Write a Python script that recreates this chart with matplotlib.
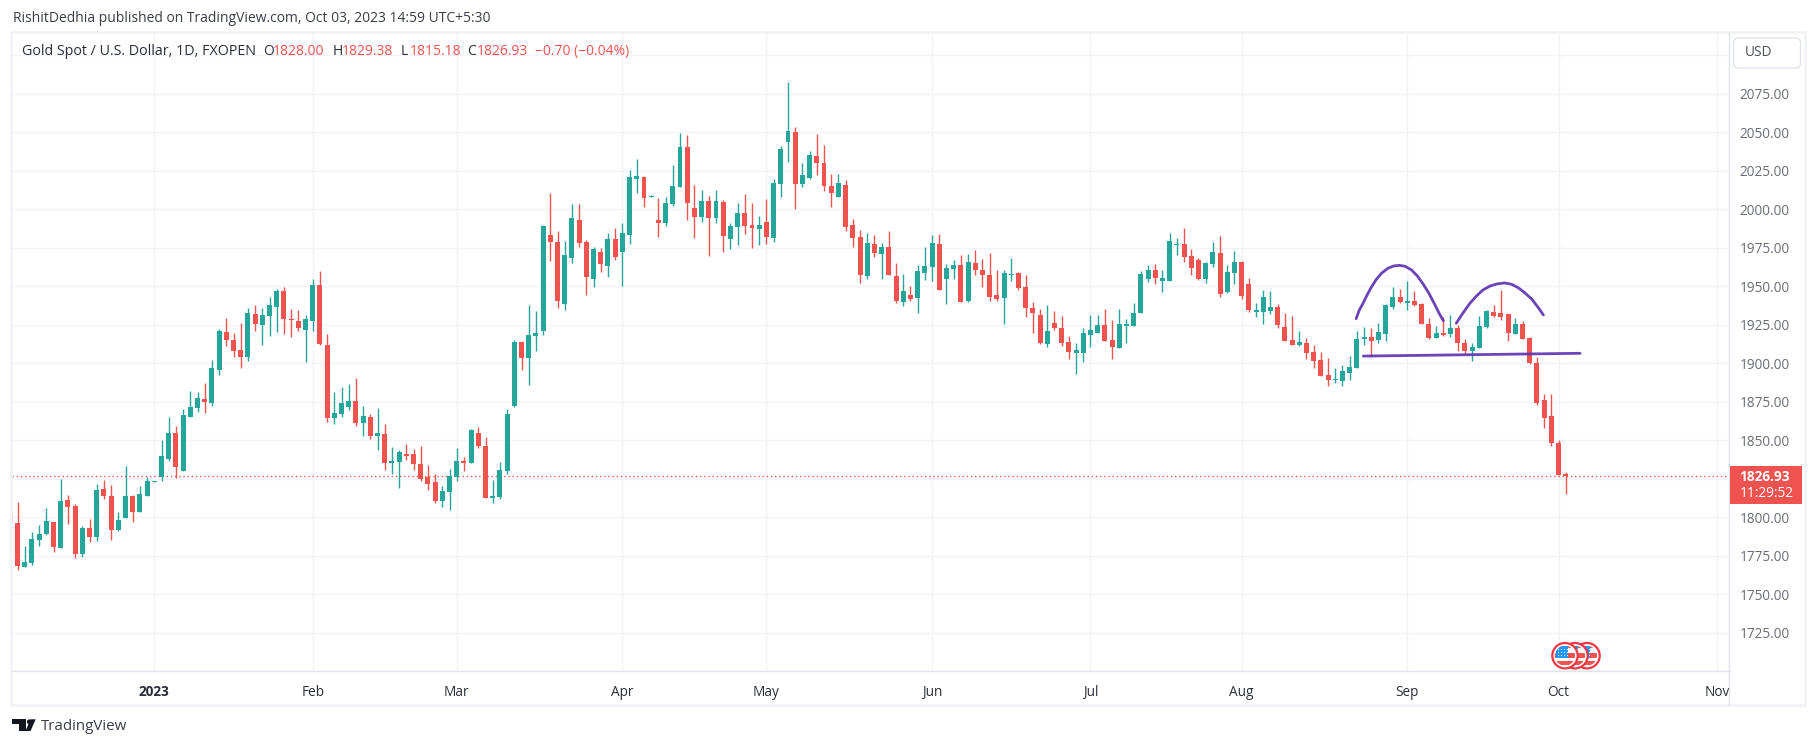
import matplotlib
matplotlib.use("Agg")
import matplotlib.pyplot as plt
from matplotlib.patches import Circle, FancyBboxPatch, Polygon, Rectangle

W, H = 1817, 747
FONT = "Open Sans"
GREEN = "#26a69a"
RED = "#ef5350"
GRID = "#f2f4f9"
BORDER = "#e0e3eb"
PURPLE = "#5e35b1"

# price bars, bar -1 is cut by the left edge of the chart
opens = [1803, 1796.3, 1767.7, 1770.3, 1785.2, 1789.1, 1796.9, 1780, 1811.2, 1807.3, 1776.1, 1793, 1787.2, 1818.4, 1813.8, 1791.7, 1799.5, 1813.8, 1803.4, 1813.8, 1822.9, 1826.2, 1837.8, 1854.7, 1830, 1865.1, 1871, 1876.8, 1874.2, 1895.7, 1920.3, 1915.1, 1908.6, 1904.1, 1932, 1924.9, 1930.7, 1936.6, 1947, 1928.8, 1927.5, 1921.6, 1927.5, 1950.9, 1911.9, 1864.5, 1867.1, 1871.6,
         1875.5, 1861.2, 1865.1, 1852.8, 1854.1, 1835.2, 1835.9, 1841.1, 1841.1, 1834.6, 1826.2, 1822.9, 1810.6, 1816.4, 1826.2, 1836.5, 1835.2, 1854.7, 1846.3, 1812.5, 1813.2, 1830, 1872.3, 1913.8, 1903.5, 1917.7, 1921, 1983.3, 1978.7, 1938.5, 1968.3, 1993, 1978.7, 1954.7, 1972.2, 1963.1, 1980.7, 1972.2, 1983.3, 2019.6, 2020.9, 2008, 1993, 1991.1, 2003.4, 2014.5, 2040.4, 2000.8, 1995, 2005.4, 1994.3, 2004.7, 1980.7, 1988.5, 1997.6, 1989.8, 1987.2, 1991.7, 1981.3, 2016.4, 2043.7, 2050.2, 2016.4, 2020.3, 2034.6, 2030, 2015.1, 2008, 2015.8, 1989.8, 1982, 1956.6, 1977.4, 1970.9, 1975.5, 1956.6,
         1939.7, 1944.3, 1942.3, 1958.6, 1962.5, 1977.4, 1954.7, 1961.2, 1963.8, 1940.4, 1965.1, 1960.5, 1957.3, 1944.3, 1942.3, 1957.3, 1958.6, 1949.5, 1935.8, 1931.3, 1912.5, 1926.1, 1922.9, 1913.8, 1906.6, 1906.6, 1918.3, 1919.6, 1924.8, 1915.1, 1909.9, 1924.2, 1924.2, 1932.6, 1954.7, 1960.5, 1953.4, 1953.4, 1976.8, 1977.4, 1969.6, 1967, 1954.7, 1964.4, 1971.6, 1946.2, 1958.6, 1965.7, 1951.4, 1933.3, 1933.3, 1933.9, 1936.5, 1923.5, 1915.1, 1911.9,
         1913.2, 1907.3, 1902.2, 1892.4, 1889.2, 1888.5, 1893.7, 1897, 1915.8, 1917.1, 1915.1, 1919, 1936.6, 1943.1, 1939.2, 1940.5, 1938.5, 1925.5, 1916.4, 1919.7, 1919, 1922.9, 1913.2, 1908, 1909.9, 1923.6, 1933.3, 1932.7, 1932, 1919, 1925.5, 1916.4, 1900.2, 1876.2, 1865.8, 1848.2, 1828.00]
highs = [1803, 1809.7, 1781.3, 1790.4, 1795, 1806, 1796.9, 1824.9, 1814.5, 1808.6, 1794.3, 1798.9, 1821.6, 1824.2, 1821, 1803.4, 1833.3, 1814.5, 1820.3, 1826.2, 1823.6, 1850.2, 1865.1, 1859.3, 1870.3, 1882, 1881.4, 1887.2, 1902.2, 1922.3, 1929.4, 1919.7, 1926.2, 1935.9, 1937.9, 1935.9, 1943.1, 1948.3, 1949.6, 1935.3, 1934.6, 1931.4, 1954.8, 1960, 1919, 1881.4, 1884.6, 1886.6,
         1890.5, 1872.3, 1867.1, 1871, 1860.6, 1845.6, 1843.7, 1847.6, 1844.3, 1846.3, 1834, 1828.1, 1820.3, 1831.4, 1845, 1839.1, 1857.3, 1858.6, 1852.1, 1824.2, 1835.9, 1870.3, 1915.1, 1914.5, 1937.9, 1934, 1989.8, 2010.6, 1985.9, 1979.4, 2003.4, 2003.4, 1980.1, 1975.5, 1974.8, 1984.6, 1987.8, 1991.1, 2025.5, 2032.6, 2021.6, 2009.3, 2007.3, 2008, 2028.7, 2049.5, 2048.2, 2015.8, 2012.5, 2008.6, 2012.5, 2006, 1991.1, 2004, 2009.9, 2004, 1995.6, 2006.7, 2019.6, 2041.1, 2082.7, 2053.4, 2030, 2037.8, 2048.9, 2041.7, 2022.9, 2022.9, 2019, 1993.7, 1986.5, 1984.6, 1983.3, 1978.1, 1985.9, 1965.1,
         1957.9, 1950.1, 1963.8, 1975.5, 1983.3, 1983.9, 1964.4, 1967, 1970.3, 1970.9, 1973.5, 1967.7, 1971.6, 1960.5, 1960.5, 1968.3, 1959.2, 1957.3, 1939.7, 1935.2, 1937.8, 1933.9, 1930.7, 1917.7, 1913.1, 1922.9, 1931.3, 1931.3, 1935.2, 1928.1, 1935.2, 1928.7, 1939.1, 1959.9, 1963.8, 1964.4, 1960.5, 1984.6, 1981.3, 1987.8, 1974.2, 1968.3, 1965.7, 1978.7, 1982.6, 1963.8, 1972.9, 1966.4, 1955.3, 1939.1, 1947.5, 1946.9, 1938.4, 1932.6, 1930.7, 1921,
         1916.4, 1911.9, 1907.3, 1903.5, 1897, 1898.9, 1904.7, 1921, 1923.6, 1922.9, 1926.2, 1938.5, 1949.6, 1948.3, 1953.5, 1947, 1939.2, 1929.4, 1924.2, 1930.1, 1931.4, 1924.9, 1915.8, 1913.2, 1930.7, 1934.6, 1937.9, 1947.6, 1932, 1929.4, 1927.5, 1917.1, 1904.1, 1880.1, 1880.1, 1850.2, 1829.38]
lows = [1797, 1765.8, 1767.7, 1769, 1781.3, 1788.5, 1777.4, 1780, 1795.6, 1773.5, 1774.2, 1784, 1784.6, 1811.9, 1785.2, 1791.1, 1799.5, 1796.9, 1803.4, 1813.8, 1822.9, 1823.6, 1836.5, 1825.5, 1830, 1865.1, 1868.4, 1867.7, 1872.3, 1892.4, 1911.2, 1904.1, 1897, 1901.5, 1921, 1911.9, 1917.7, 1920.3, 1919, 1917.1, 1921, 1900.8, 1921, 1911.9, 1861.9, 1860.6, 1865.1, 1869.7,
        1859.3, 1852.8, 1850.8, 1843.7, 1830.7, 1828.1, 1819, 1837.2, 1830.7, 1823.6, 1817.7, 1809.3, 1806.7, 1804.7, 1823.6, 1830, 1835.2, 1845, 1812.5, 1809.3, 1811.9, 1828.1, 1871.6, 1895.7, 1885.9, 1908, 1918.4, 1966.4, 1935.9, 1934.6, 1965.1, 1975.5, 1944.3, 1949.5, 1959.2, 1956, 1967.1, 1950.2, 1977.4, 2010.6, 2001.5, 2008, 1982, 1989.1, 2002.1, 2014.5, 1993, 1981.3, 1991.7, 1969.6, 1991.1, 1972.2, 1974.2, 1976.8, 1984, 1974.8, 1976.8, 1977.4, 1978.7, 2008, 2030.7, 2000.2, 2014.5, 2019.6, 2022.3, 2011.9, 2001.5, 2008, 1985.9, 1975.5, 1952.1, 1954.7, 1969, 1954.7, 1957.3, 1939.1,
        1937.1, 1940.4, 1932.6, 1954, 1953.4, 1947.5, 1938.4, 1954.7, 1939.7, 1939.7, 1957.3, 1949.5, 1940.4, 1940.4, 1925.5, 1953.4, 1947.5, 1930, 1919.6, 1912.5, 1910.5, 1921.6, 1911.2, 1902.7, 1893, 1900.8, 1910.5, 1919.6, 1914.4, 1902.7, 1909.9, 1913.1, 1924.2, 1932.6, 1952.7, 1951.4, 1946.2, 1953.4, 1970.3, 1965.7, 1957.3, 1954, 1952.1, 1962.5, 1943, 1945.6, 1951.4, 1941.7, 1933.3, 1930, 1925.5, 1932, 1922.9, 1914.4, 1911.8, 1911.2,
        1902.8, 1897, 1891.8, 1885.3, 1887.2, 1885.3, 1889.2, 1897, 1911.9, 1904.1, 1913.2, 1914.5, 1935.3, 1939.2, 1934.6, 1937.2, 1925.5, 1915.8, 1916.4, 1917.7, 1917.1, 1908, 1906.1, 1901.5, 1909.9, 1922.9, 1930.1, 1928.1, 1914.5, 1919, 1915.8, 1899.6, 1872.9, 1858, 1846.3, 1827.5, 1815.18]
closes = [1797, 1768.6, 1771, 1785.9, 1789.1, 1797.6, 1780.7, 1810.6, 1806.7, 1776.1, 1793, 1787.2, 1817.7, 1813.8, 1791.7, 1798.2, 1813.8, 1803.4, 1815.1, 1823.6, 1823.6, 1839.8, 1854.7, 1832.7, 1866.4, 1871.6, 1877.5, 1874.9, 1897, 1921, 1915.1, 1908, 1904.1, 1932.7, 1925.5, 1931.4, 1937.9, 1947, 1928.8, 1928.1, 1922.9, 1928.8, 1950.9, 1912.5, 1864.5, 1867.7, 1874.2, 1875.5,
          1861.2, 1865.8, 1852.8, 1854.7, 1835.2, 1836.5, 1842.4, 1839.8, 1834.6, 1824.9, 1821.6, 1810.6, 1817, 1826.8, 1836.5, 1835.2, 1856.7, 1846.3, 1812.5, 1813.8, 1830.7, 1867.1, 1913.8, 1903.5, 1918.4, 1919.7, 1989.1, 1978.7, 1940.4, 1970.3, 1994.3, 1978.1, 1956, 1974.2, 1964.4, 1980.7, 1969, 1984.6, 2020.9, 2021.6, 2007.3, 2008.6, 1991.1, 2004, 2015.1, 2040.4, 2004, 1995, 2005.4, 1994.3, 2005.4, 1982.6, 1989.1, 1997.6, 1989.1, 1987.8, 1989.8, 1982, 2017, 2039.1, 2050.8, 2016.4, 2022.3, 2035.2, 2030, 2015.1, 2010.6, 2017, 1988.5, 1981.3, 1957.3, 1978.1, 1971.6, 1975.5, 1957.3, 1940.4,
          1946.9, 1941.7, 1959.9, 1963.1, 1978.1, 1947.5, 1961.8, 1963.8, 1939.7, 1965.7, 1960.5, 1957.3, 1943, 1941.7, 1958.6, 1957.9, 1948.8, 1935.8, 1932.6, 1913.1, 1920.9, 1922.9, 1913.1, 1907.3, 1908.6, 1919.6, 1921.6, 1924.8, 1914.4, 1910.5, 1925.5, 1925.5, 1932.6, 1957.9, 1960.5, 1955.3, 1955.3, 1979.4, 1977.4, 1969, 1961.8, 1954.7, 1965.1, 1972.2, 1945, 1959.2, 1965.7, 1943.6, 1934.6, 1934.6, 1943, 1936.5, 1924.8, 1914.4, 1911.8, 1913.8,
          1906.7, 1901.5, 1891.8, 1889.2, 1889.8, 1895, 1897.6, 1915.8, 1917.1, 1914.5, 1920.3, 1937.9, 1943.1, 1939.8, 1940.5, 1937.9, 1925.5, 1916.4, 1919.7, 1918.4, 1922.9, 1913.2, 1908, 1910.6, 1924.2, 1934, 1930.7, 1930.1, 1919.7, 1925.5, 1915.8, 1900.2, 1874.2, 1864.5, 1848.2, 1827.5, 1826.93]
first_bar = -1

# drawings on the chart, in bar numbers and prices
arc1_x = [185.9, 186.3, 186.9, 187.4, 188.0, 188.7, 189.4, 190.3, 191.1, 191.9, 192.7, 193.6, 194.4, 195.2, 196.0, 196.8, 197.5, 198.0]
arc1_y = [1929, 1934.2, 1939.4, 1944.2, 1949.4, 1954.5, 1958.4, 1961.7, 1963.2, 1963.6, 1963, 1960.6, 1956.7, 1951.5, 1945.5, 1938.3, 1931.8, 1927.7]
arc2_x = [199.8, 200.7, 201.7, 202.6, 203.5, 204.5, 205.4, 206.5, 207.5, 208.4, 209.3, 210.3, 211.2, 211.9]
arc2_y = [1926, 1932.5, 1939, 1943.7, 1947.6, 1950.2, 1951.5, 1952.2, 1951.3, 1949.1, 1945.9, 1941.6, 1936.1, 1931.4]
neck_x = [186.9, 217]
neck_y = [1904.7, 1906.5]

month_bars = [19, 41, 61, 84, 104, 127, 149, 170, 193, 214, 236]
month_labels = ["2023", "Feb", "Mar", "Apr", "May", "Jun", "Jul", "Aug", "Sep", "Oct", "Nov"]
price_ticks = list(range(1700, 2125, 25))
shown_prices = [1725, 1750, 1775, 1800, 1850, 1875, 1900, 1925, 1950, 1975, 2000, 2025, 2050, 2075]
last_price = 1826.93

plt.rcParams["font.family"] = [FONT, "DejaVu Sans"]
fig = plt.figure(figsize=(W / 100, H / 100), dpi=100, facecolor="white")

# chart area, placed in pixels
left, right, top, bottom = 12.3, 1729.3, 33.0, 671.3
ax = fig.add_axes([left / W, 1 - bottom / H, (right - left) / W, (bottom - top) / H])
ax.set_xlim((left - 17.5) / 7.201, (right - 17.5) / 7.201)
ax.set_ylim(1700, 2114.5)
for s in ax.spines.values():
    s.set_visible(False)

ax.set_axisbelow(True)
ax.grid(True, color=GRID, lw=1.0)
ax.set_xticks(month_bars)
ax.set_xticklabels(month_labels, fontsize=9.8, color="#2a2e39")
ax.get_xticklabels()[0].set_fontweight("bold")
ax.yaxis.tick_right()
ax.set_yticks(price_ticks)
ax.set_yticklabels([f"{p:.2f}" if p in shown_prices else "" for p in price_ticks], fontsize=9.8, color="#6a6d78")
ax.tick_params(axis="both", length=0)
ax.tick_params(axis="x", pad=10)
ax.tick_params(axis="y", pad=7.5)

xs = [first_bar + i for i in range(len(closes))]
colors = [GREEN if c >= o else RED for o, c in zip(opens, closes)]
ax.vlines(xs, lows, highs, colors=colors, lw=1.0, zorder=3)
bottoms = [min(o, c) for o, c in zip(opens, closes)]
heights = [max(abs(c - o), 0.7) for o, c in zip(opens, closes)]
ax.bar(xs, heights, bottom=bottoms, width=0.69, color=colors, lw=0, zorder=4)
ax.patches[0].set_alpha(0.6)

ax.axhline(last_price, color=RED, lw=1.0, ls=(0, (1, 2)), zorder=2)

for px, py in [(arc1_x, arc1_y), (arc2_x, arc2_y), (neck_x, neck_y)]:
    ax.plot(px, py, color=PURPLE, lw=2.0, solid_capstyle="round", solid_joinstyle="round", alpha=0.92, zorder=5)

# overlay in pixel coordinates for the frame, the tag, the header and the logo
ov = fig.add_axes([0, 0, 1, 1], facecolor="none")
ov.set_xlim(0, W)
ov.set_ylim(H, 0)
ov.axis("off")

ov.add_patch(Rectangle((left - 1, top - 1), 1805 - left + 1, 705 - top + 1, fill=False, ec="#f0f2f8", lw=1.8))
ov.plot([left, right], [bottom, bottom], color=BORDER, lw=1.0)
ov.plot([right, right], [top, 705], color=BORDER, lw=1.0)


def htext(x, y, s, color="#2a2e39", size=9.8, **kw):
    ov.text(x, y, s, color=color, fontsize=size, va="center", ha="left", **kw)


htext(12.6, 18, "RishitDedhia published on TradingView.com, Oct 03, 2023 14:59 UTC+5:30", color="#3a3e49", size=10)
htext(22, 51.5, "Gold Spot / U.S. Dollar, 1D, FXOPEN", size=10.25)
legend_parts = [(263, "O", "#2a2e39"), (272.7, "1828.00", RED), (332.5, "H", "#2a2e39"), (341.8, "1829.38", RED),
                (401, "L", "#2a2e39"), (409.5, "1815.18", RED), (467, "C", "#2a2e39"), (477, "1826.93", RED),
                (535.4, "\u22120.70 (\u22120.04%)", RED)]
for lx, s, c in legend_parts:
    htext(lx, 51.5, s, color=c, size=10)

# price tag
ov.add_patch(Rectangle((1729.5, 466), 72, 37.5, fc=RED, ec="none", zorder=6))
htext(1739.5, 477, f"{last_price:.2f}", color="white", size=9.8, fontweight="bold", zorder=7)
htext(1739.5, 493.5, "11:29:52", color="white", size=9.8, zorder=7)

# USD button
ov.add_patch(FancyBboxPatch((1737, 41.5), 60, 23, boxstyle="round,pad=3.5,rounding_size=5", fc="white", ec=BORDER, lw=1.0, zorder=6))
ov.text(1758, 53, "USD", color="#4a4e59", fontsize=9.8, ha="center", va="center", zorder=7)


# event flags, drawn back to front
def draw_flag(cx, cy, z):
    ov.add_patch(Circle((cx, cy), 12.7, fc="white", ec="#f23645", lw=1.6, zorder=z))
    disc = Circle((cx, cy), 10, fc="white", ec="none", zorder=z)
    ov.add_patch(disc)
    parts = [Rectangle((cx - 10, cy - 10), 20, 2, fc=RED, ec="none", zorder=z),
             Rectangle((cx - 10, cy - 2.5), 20, 5, fc=RED, ec="none", zorder=z),
             Rectangle((cx - 10, cy + 5.3), 20, 4, fc=RED, ec="none", zorder=z),
             Rectangle((cx - 9, cy - 9.5), 11.5, 12, fc="#2196f3", ec="none", zorder=z)]
    for p in parts:
        ov.add_patch(p)
        p.set_clip_path(disc)
    for dx in [-7, -4, -1, 1.5]:
        for dy in [-7, -4, -1]:
            ov.add_patch(Rectangle((cx + dx, cy + dy), 1, 1, fc="white", ec="none", zorder=z))


for z, cx in enumerate([1587, 1575, 1565]):
    draw_flag(cx, 655.7, 8 + z)

# logo
ov.add_patch(Polygon([(12.3, 719.3), (26, 719.3), (26, 731), (18.5, 731), (18.5, 724.3), (12.3, 724.3)], fc="#131722", ec="none"))
ov.add_patch(Circle((29.3, 721.8), 2.4, fc="#131722", ec="none"))
ov.add_patch(Polygon([(30.5, 731), (25.5, 731), (30.5, 719.3), (35.7, 719.3)], fc="#131722", ec="none"))
htext(40.5, 726.7, "TradingView", color="#3a3e49", size=10.9)

fig.savefig("out.png", dpi=100)
